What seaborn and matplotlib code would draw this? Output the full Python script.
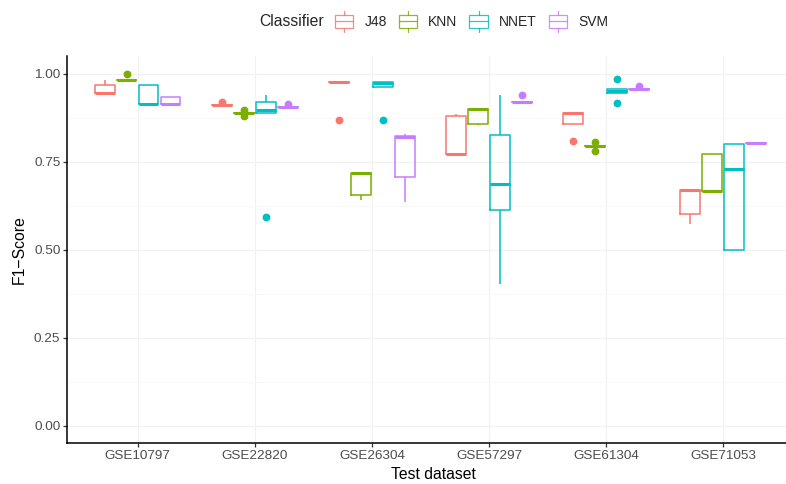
import numpy as np
import pandas as pd
import matplotlib
matplotlib.use("Agg")
import matplotlib.pyplot as plt
import seaborn as sns
from matplotlib.ticker import FixedLocator
from matplotlib.patches import Rectangle, Patch
from matplotlib.lines import Line2D
from matplotlib.legend_handler import HandlerBase

# ---------------- data ----------------
datasets = ["GSE10797", "GSE22820", "GSE26304", "GSE57297", "GSE61304", "GSE71053"]
classifiers = ["J48", "KNN", "NNET", "SVM"]

j48 = [
    [0.946, 0.946, 0.946, 0.969, 0.983],
    [0.910, 0.910, 0.910, 0.910, 0.919],
    [0.869, 0.975, 0.975, 0.975, 0.975],
    [0.773, 0.773, 0.773, 0.879, 0.886],
    [0.808, 0.858, 0.887, 0.887, 0.887],
    [0.574, 0.601, 0.669, 0.669, 0.669],
]
knn = [
    [0.983, 0.983, 0.983, 0.983, 1.000],
    [0.881, 0.888, 0.888, 0.888, 0.898],
    [0.641, 0.656, 0.718, 0.718, 0.718],
    [0.854, 0.858, 0.900, 0.900, 0.900],
    [0.780, 0.793, 0.793, 0.793, 0.805],
    [0.667, 0.667, 0.667, 0.771, 0.771],
]
nnet = [
    [0.914, 0.915, 0.915, 0.967, 0.967],
    [0.592, 0.888, 0.898, 0.919, 0.938],
    [0.868, 0.961, 0.974, 0.976, 0.977],
    [0.402, 0.612, 0.686, 0.827, 0.939],
    [0.916, 0.945, 0.950, 0.956, 0.984],
    [0.500, 0.500, 0.730, 0.801, 0.801],
]
svm = [
    [0.915, 0.915, 0.915, 0.933, 0.933],
    [0.904, 0.904, 0.904, 0.904, 0.915],
    [0.635, 0.707, 0.820, 0.824, 0.829],
    [0.919, 0.919, 0.919, 0.919, 0.940],
    [0.956, 0.956, 0.956, 0.956, 0.966],
    [0.802, 0.802, 0.802, 0.802, 0.802],
]
yticks = [0.00, 0.25, 0.50, 0.75, 1.00]
ytick_labels = ["0.00", "0.25", "0.50", "0.75", "1.00"]

colors = ["#F8766D", "#7CAE00", "#00BFC4", "#C77CFF"]

rows = []
for clf, series in zip(classifiers, [j48, knn, nnet, svm]):
    for ds, vals in zip(datasets, series):
        for v in vals:
            rows.append({"Test dataset": ds, "Classifier": clf, "F1": v})
df = pd.DataFrame(rows)

# ---------------- figure ----------------
sns.set_style("white")
plt.rcParams["font.family"] = ["Liberation Sans", "DejaVu Sans"]

W, H = 786, 484
fig = plt.figure(figsize=(W / 100, H / 100), dpi=100)
left_px, right_px, top_px, bot_px = 67.3, 793.6, 56.0, 443.3
ax = fig.add_axes([left_px / W, (H - bot_px) / H,
                   (right_px - left_px) / W, (bot_px - top_px) / H])

sns.boxplot(data=df, x="Test dataset", y="F1", hue="Classifier",
            order=datasets, hue_order=classifiers, palette=colors,
            fill=False, width=0.75, gap=0.1, showcaps=False, linewidth=1.1,
            medianprops={"linewidth": 2.2},
            flierprops={"marker": "o", "markersize": 4.6},
            legend=False, ax=ax)

for ln in ax.lines:
    if ln.get_marker() == "o":
        ln.set_markerfacecolor(ln.get_markeredgecolor())

ax.set_xlim(-0.6, 5.6)
ax.set_ylim(-0.05, 1.05)
ax.yaxis.set_major_locator(FixedLocator(yticks))
ax.set_yticklabels(ytick_labels)
ax.yaxis.set_minor_locator(FixedLocator([0.125, 0.375, 0.625, 0.875]))
ax.set_axisbelow(True)
ax.grid(True, which="major", axis="both", color="#F2F2F2", linewidth=0.9)
ax.grid(True, which="minor", axis="y", color="#F7F7F7", linewidth=0.6)

for s in ["top", "right"]:
    ax.spines[s].set_visible(False)
for s in ["left", "bottom"]:
    ax.spines[s].set_color("black")
    ax.spines[s].set_linewidth(1.1)

ax.tick_params(axis="both", which="major", length=2.7, width=0.9, color="#333333",
               labelcolor="#4D4D4D", labelsize=9.7, pad=2.2, left=True, bottom=True)
ax.tick_params(axis="y", which="minor", length=0)

ax.set_xlabel("Test dataset", fontsize=11.3, color="black")
ax.set_ylabel("F1\u2212Score", fontsize=11.3, color="black")
ax.xaxis.set_label_coords((433 - left_px) / (right_px - left_px), (bot_px - 467) / (bot_px - top_px))
ax.yaxis.set_label_coords((27 - left_px) / (right_px - left_px), 0.5)


# ---------------- legend ----------------
class BoxKey(HandlerBase):
    def create_artists(self, legend, orig_handle, xdescent, ydescent, width, height,
                       fontsize, trans):
        c = orig_handle.get_edgecolor()
        x0 = -xdescent
        cx = x0 + width / 2
        cy = -ydescent + height / 2
        bh = 9.4
        wl = 2.9
        kw = dict(color=c, linewidth=0.9, alpha=0.85, transform=trans)
        rect = Rectangle((x0, cy - bh / 2), width, bh, facecolor="none",
                         edgecolor=c, linewidth=0.9, alpha=0.85, transform=trans)
        med = Line2D([x0, x0 + width], [cy, cy], **kw)
        w1 = Line2D([cx, cx], [cy + bh / 2, cy + bh / 2 + wl], **kw)
        w2 = Line2D([cx, cx], [cy - bh / 2, cy - bh / 2 - wl], **kw)
        return [rect, med, w1, w2]


handles = [Patch(edgecolor=c, facecolor="white") for c in colors]
ly = (H - 22) / H
fig.text(324 / W, (H - 21) / H, "Classifier", ha="right", va="center", fontsize=11.3)
leg = fig.legend(handles, classifiers, handler_map={Patch: BoxKey()},
                 loc="center left", bbox_to_anchor=(335 / W, ly), ncol=4,
                 frameon=False, fontsize=10.0, handlelength=1.33, handleheight=1.0,
                 handletextpad=0.8, columnspacing=0.85, borderpad=0, borderaxespad=0)

fig.savefig("out.png", dpi=100)
